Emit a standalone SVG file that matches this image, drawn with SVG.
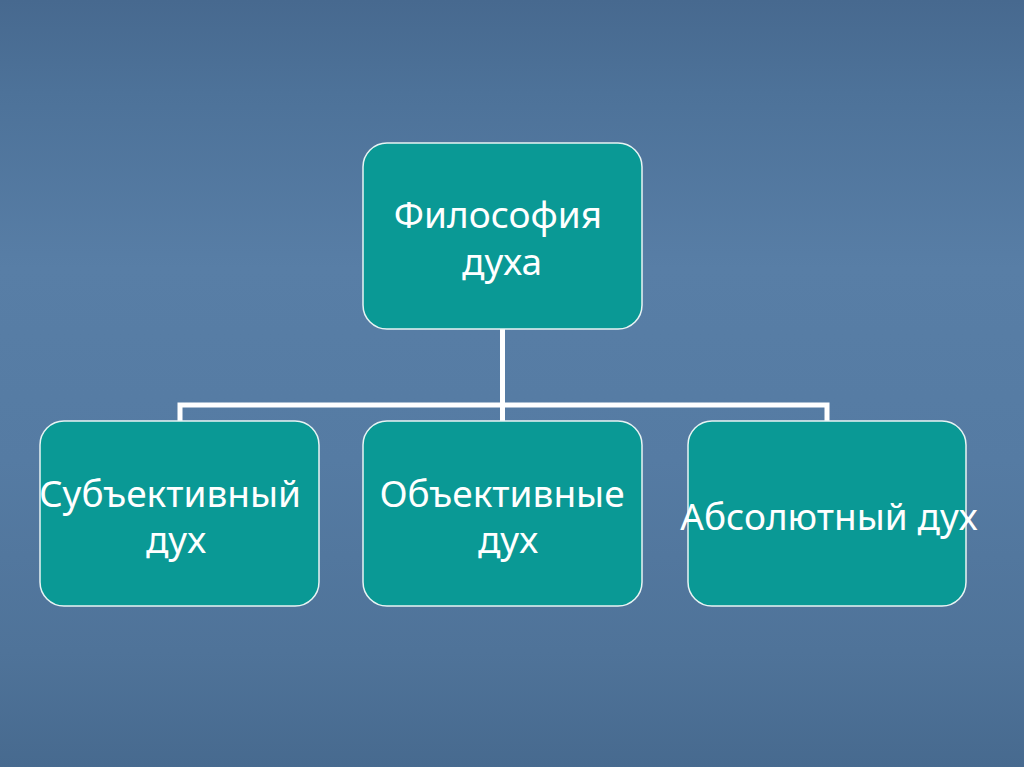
<svg xmlns="http://www.w3.org/2000/svg" width="1024" height="767" viewBox="0 0 1024 767">
<defs>
<linearGradient id="bg" x1="0" y1="0" x2="0" y2="1">
<stop offset="0" stop-color="#47698f"/>
<stop offset="0.12" stop-color="#4d7299"/>
<stop offset="0.35" stop-color="#587ea6"/>
<stop offset="0.6" stop-color="#557ba3"/>
<stop offset="0.85" stop-color="#4f7399"/>
<stop offset="1" stop-color="#476a8f"/>
</linearGradient>
<style>
.box{fill:#0a9995;stroke:#e8f4f4;stroke-width:1.5}
.t{font-family:"Noto Sans","DejaVu Sans",sans-serif;font-size:37px;fill:#ffffff;text-anchor:middle}
.c{stroke:#ffffff;stroke-width:5;fill:none}
</style>
</defs>
<rect width="1024" height="767" fill="url(#bg)"/>
<g id="connectors">
<path class="c" d="M502.5 329 V405 M180 421 V405 H827 V421 M502.5 405 V421"/>
</g>
<g id="root">
<rect class="box" x="363" y="143" width="279" height="186" rx="24"/>
<text class="t" x="498" y="228">Философия</text>
<text class="t" x="502" y="275">духа</text>
</g>
<g id="subjective">
<rect class="box" x="40" y="421" width="279" height="185" rx="24"/>
<text class="t" x="170" y="507">Субъективный</text>
<text class="t" x="176" y="553">дух</text>
</g>
<g id="objective">
<rect class="box" x="363" y="421" width="279" height="185" rx="24"/>
<text class="t" x="502" y="507">Объективные</text>
<text class="t" x="508" y="553">дух</text>
</g>
<g id="absolute">
<rect class="box" x="688" y="421" width="278" height="185" rx="24"/>
<text class="t" x="829" y="530">Абсолютный дух</text>
</g>
</svg>
